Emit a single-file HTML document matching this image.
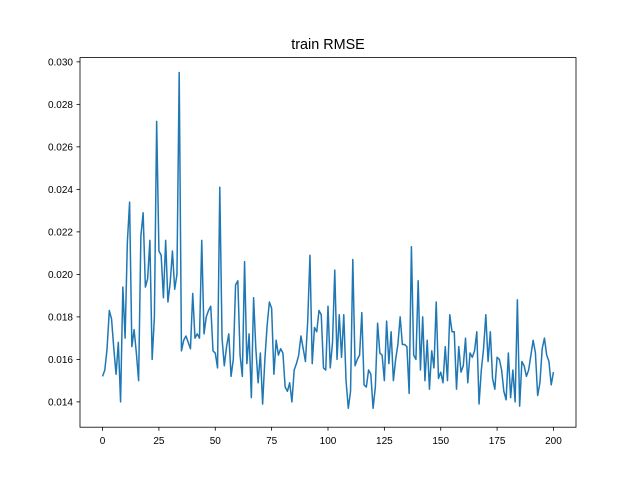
<!DOCTYPE html>
<html><head><meta charset="utf-8"><style>
body{margin:0;background:#fff}
svg{display:block;font-family:"Liberation Sans","DejaVu Sans",sans-serif}
</style></head><body>
<svg id="chart" width="640" height="480">
<rect width="640" height="480" fill="#fff"/>
<text x="328" y="49" font-size="14.4" text-anchor="middle">train RMSE</text>
<g id="plot"></g>
</svg>
<script>
const values=[0.0152,0.0155,0.0165,0.0183,0.0179,0.0165,0.0153,0.0168,0.0140,0.0194,0.0170,0.0215,0.0234,0.0166,0.0174,0.0163,0.0150,0.0218,0.0229,0.0194,0.0198,0.0216,0.0160,0.0180,0.0272,0.0211,0.0209,0.0189,0.0216,0.0187,0.0196,0.0211,0.0193,0.0200,0.0295,0.0164,0.0169,0.0171,0.0168,0.0165,0.0191,0.0170,0.0172,0.0170,0.0216,0.0172,0.0180,0.0183,0.0185,0.0164,0.0163,0.0156,0.0241,0.0170,0.0157,0.0166,0.0172,0.0152,0.0160,0.0195,0.0197,0.0162,0.0152,0.0206,0.0158,0.0172,0.0142,0.0189,0.0165,0.0149,0.0163,0.0139,0.0160,0.0176,0.0187,0.0184,0.0153,0.0169,0.0162,0.0165,0.0163,0.0147,0.0145,0.0149,0.0140,0.0155,0.0158,0.0162,0.0171,0.0165,0.0159,0.0178,0.0209,0.0158,0.0175,0.0173,0.0183,0.0181,0.0156,0.0155,0.0185,0.0156,0.0168,0.0202,0.0160,0.0181,0.0161,0.0181,0.0150,0.0137,0.0145,0.0207,0.0157,0.0160,0.0162,0.0182,0.0148,0.0147,0.0155,0.0153,0.0137,0.0147,0.0177,0.0163,0.0162,0.0150,0.0178,0.0158,0.0173,0.0150,0.0160,0.0167,0.0180,0.0167,0.0167,0.0166,0.0144,0.0213,0.0162,0.0160,0.0197,0.0155,0.0180,0.0150,0.0169,0.0146,0.0164,0.0156,0.0187,0.0151,0.0154,0.0149,0.0166,0.0150,0.0181,0.0173,0.0173,0.0146,0.0166,0.0154,0.0157,0.0170,0.0149,0.0163,0.0161,0.0164,0.0173,0.0139,0.0155,0.0165,0.0181,0.0159,0.0173,0.0151,0.0146,0.0161,0.0160,0.0155,0.0145,0.0141,0.0163,0.0142,0.0155,0.0140,0.0188,0.0138,0.0159,0.0157,0.0152,0.0155,0.0162,0.0169,0.0163,0.0143,0.0149,0.0165,0.0170,0.0162,0.0159,0.0148,0.0154];
const xTicks=[0,25,50,75,100,125,150,175,200];
const yTicks=[0.014,0.016,0.018,0.020,0.022,0.024,0.026,0.028,0.030];
const L=80,R=576,T=57.6,B=427.2;
const xMin=-10,xMax=210,yMin=0.01281,yMax=0.03020;
const sx=v=>L+(v-xMin)/(xMax-xMin)*(R-L);
const sy=v=>B-(v-yMin)/(yMax-yMin)*(B-T);
const NS='http://www.w3.org/2000/svg';
const g=document.getElementById('plot');
function mk(t,a){const e=document.createElementNS(NS,t);for(const k in a)e.setAttribute(k,a[k]);g.appendChild(e);return e;}
let d='';
values.forEach((v,i)=>{d+=(i?'L':'M')+sx(i).toFixed(2)+','+sy(v).toFixed(2);});
const line=mk('path',{d:d,fill:'none',stroke:'#1f77b4','stroke-width':1.5,'stroke-linejoin':'round'});


const frame=mk('rect',{x:L,y:T,width:R-L,height:B-T,fill:'none',stroke:'#000','stroke-width':0.8});


xTicks.forEach(t=>{
 const x=sx(t);
 const tk=mk('line',{x1:x,x2:x,y1:B,y2:B+3.5,stroke:'#000','stroke-width':0.8});
 
 
 const tx=mk('text',{x:x,y:B+17,'font-size':10,'text-anchor':'middle'});
 tx.textContent=t;
 
 
});
yTicks.forEach(t=>{
 const y=sy(t);
 const tk=mk('line',{x1:L-3.5,x2:L,y1:y,y2:y,stroke:'#000','stroke-width':0.8});
 
 
 const tx=mk('text',{x:L-7,y:y+3.6,'font-size':10,'text-anchor':'end'});
 tx.textContent=t.toFixed(3);
 
 
});
</script>
</body></html>
